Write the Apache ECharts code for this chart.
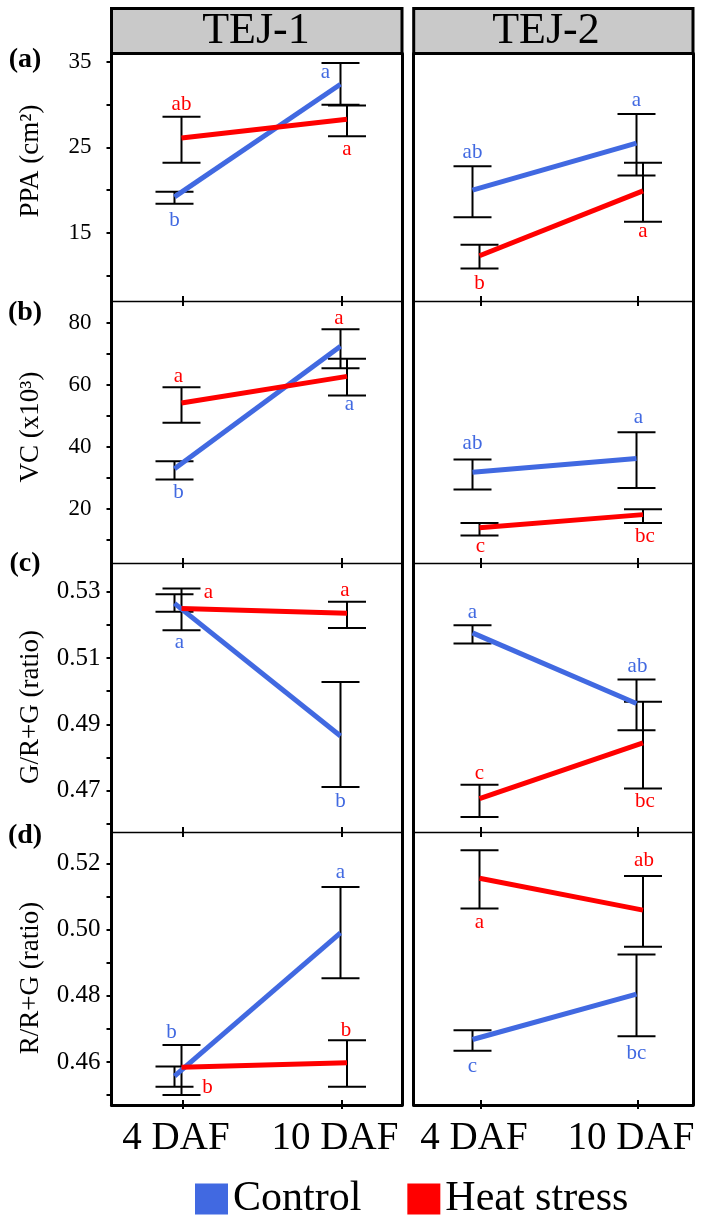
<!DOCTYPE html>
<html><head><meta charset="utf-8">
<script src="https://cdn.jsdelivr.net/npm/echarts@6/dist/echarts.min.js"></script>
<style>html,body{margin:0;padding:0;background:#fff}#chart{width:707px;height:1216px}</style>
</head><body><div id="chart"></div>
<script>
// ---------------- data ----------------
const categories = ['4 DAF', '10 DAF'];
const genotypes = ['TEJ-1', 'TEJ-2'];
const treatments = ['Control', 'Heat stress'];
const panelTags = ['(a)', '(b)', '(c)', '(d)'];
const traitNames = ['PPA (cm²)', 'VC (x10³)', 'G/R+G (ratio)', 'R/R+G (ratio)'];

const ppaTicks = [10, 15, 20, 25, 30, 35];
const ppaTickLabels = [15, 25, 35];
const vcTicks = [10, 20, 30, 40, 50, 60, 70, 80];
const vcTickLabels = [20, 40, 60, 80];
const grgTicks = [0.46, 0.47, 0.48, 0.49, 0.50, 0.51, 0.52, 0.53];
const grgTickLabels = [0.47, 0.49, 0.51, 0.53];
const rrgTicks = [0.45, 0.46, 0.47, 0.48, 0.49, 0.50, 0.51, 0.52];
const rrgTickLabels = [0.46, 0.48, 0.50, 0.52];

// mean, lower / upper end of error bar, significance letters (per category)
const ppaTej1Control = { mean: [19.2, 32.4], low: [18.4, 30.0], high: [19.8, 34.9], letters: ['b', 'a'] };
const ppaTej1Heat    = { mean: [26.1, 28.3], low: [23.2, 26.3], high: [28.6, 29.9], letters: ['ab', 'a'] };
const ppaTej2Control = { mean: [20.0, 25.5], low: [16.8, 21.7], high: [22.8, 28.9], letters: ['ab', 'a'] };
const ppaTej2Heat    = { mean: [12.3, 19.9], low: [10.8, 16.3], high: [13.6, 23.2], letters: ['b', 'a'] };

const vcTej1Control = { mean: [32.9, 72.4], low: [29.4, 65.3], high: [35.3, 77.9], letters: ['b', 'a'] };
const vcTej1Heat    = { mean: [54.1, 62.7], low: [47.7, 56.5], high: [59.2, 68.4], letters: ['a', 'a'] };
const vcTej2Control = { mean: [31.8, 36.2], low: [26.2, 26.7], high: [35.9, 44.7], letters: ['ab', 'a'] };
const vcTej2Heat    = { mean: [13.9, 18.1], low: [11.4, 15.4], high: [15.4, 19.8], letters: ['c', 'bc'] };

const grgTej1Control = { mean: [0.5265, 0.4865], low: [0.5240, 0.4711], high: [0.5293, 0.5028], letters: ['a', 'b'] };
const grgTej1Heat    = { mean: [0.5250, 0.5235], low: [0.5184, 0.5191], high: [0.5310, 0.5270], letters: ['a', 'a'] };
const grgTej2Control = { mean: [0.5176, 0.4963], low: [0.5144, 0.4882], high: [0.5199, 0.5035], letters: ['a', 'ab'] };
const grgTej2Heat    = { mean: [0.4676, 0.4844], low: [0.4620, 0.4706], high: [0.4718, 0.4968], letters: ['c', 'bc'] };

const rrgTej1Control = { mean: [0.4557, 0.4990], low: [0.4525, 0.4853], high: [0.4586, 0.5129], letters: ['b', 'a'] };
const rrgTej1Heat    = { mean: [0.4584, 0.4598], low: [0.4500, 0.4525], high: [0.4651, 0.4666], letters: ['b', 'b'] };
const rrgTej2Control = { mean: [0.4668, 0.4805], low: [0.4634, 0.4678], high: [0.4696, 0.4925], letters: ['c', 'bc'] };
const rrgTej2Heat    = { mean: [0.5155, 0.5059], low: [0.5064, 0.4948], high: [0.5240, 0.5162], letters: ['a', 'ab'] };

// ---------------- layout / style ----------------
const SERIF = "'Liberation Serif', 'Times New Roman', serif";
const COLORS = ['#4169E1', '#FF0000'];
const COLS = [
  { left: 111.5, right: 402, min: -0.4497, max: 1.3774, header: 256 },
  { left: 413.7, right: 693, min: -0.4287, max: 1.3503, header: 546 }
];
const ROWS = [
  { top: 53.5, bottom: 301, min: 7, max: 36, ticks: ppaTicks, labels: ppaTickLabels, dec: 0, margin: 20, fs: 23, tagY: 60, nameY: 161,
    data: [[ppaTej1Control, ppaTej1Heat], [ppaTej2Control, ppaTej2Heat]] },
  { top: 301, bottom: 563, min: 2.5, max: 87, ticks: vcTicks, labels: vcTickLabels, dec: 0, margin: 20, fs: 23, tagY: 313, nameY: 427,
    data: [[vcTej1Control, vcTej1Heat], [vcTej2Control, vcTej2Heat]] },
  { top: 563, bottom: 832, min: 0.4575, max: 0.5387, ticks: grgTicks, labels: grgTickLabels, dec: 2, margin: 11, fs: 25, tagY: 564, nameY: 707,
    data: [[grgTej1Control, grgTej1Heat], [grgTej2Control, grgTej2Heat]] },
  { top: 832, bottom: 1105, min: 0.447, max: 0.5295, ticks: rrgTicks, labels: rrgTickLabels, dec: 2, margin: 11, fs: 25, tagY: 836, nameY: 978,
    data: [[rrgTej1Control, rrgTej1Heat], [rrgTej2Control, rrgTej2Heat]] }
];
// pixel dodge of each treatment at each category
const DODGE = [[-8.5, -1.5], [-1.5, 5]];
// letter placement [anchor, dx, dy]  per row / col / treatment / category
const LABEL_PLACE = [
  [[[['bottom', 0, 4], ['top', -15, 22]], [['top', 0, 0], ['bottom', 0, 0]]],
   [[['top', 0, -2], ['top', 0, -2]], [['bottom', 0, 2], ['bottom', 0, -3]]]],
  [[[['bottom', 4, 0], ['bottom', 9, 23]], [['top', -3, 1], ['top', -8, -28]]],
   [[['top', 0, -4], ['top', 2, -3]], [['bottom', 1, -2], ['bottom', 2, 0]]]],
  [[[['bottom', 5, 18], ['bottom', 0, 2]], [['top', 27, 16], ['top', -2, 1]]],
   [[['top', 0, -1], ['top', 1, -1]], [['top', 0, 1], ['bottom', 2, 0]]]],
  [[[['top', -3, -22], ['top', 0, -2]], [['bottom', 26, -21], ['top', -1, 2]]],
   [[['bottom', 0, 3], ['bottom', 0, 4]], [['bottom', 0, 1], ['top', 1, -4]]]]
];
const CAP_HALF = 19;

const option = {
  animation: false,
  backgroundColor: '#fff',
  textStyle: { fontFamily: SERIF },
  grid: [], xAxis: [], yAxis: [], series: [], graphic: [],
  legend: {
    data: treatments.map(t => ({ name: t, icon: 'rect' })),
    left: 190, top: 1173, itemWidth: 33, itemHeight: 31, itemGap: 46,
    textStyle: { fontSize: 42, fontFamily: SERIF, color: '#000' },
    selectedMode: false
  }
};

function barRenderer(d, dodge, place, color) {
  return function (params, api) {
    const i = params.dataIndex;
    const cat = api.value(0);
    const x = api.coord([cat, api.value(1)])[0] + dodge[i];
    const yLo = api.coord([cat, api.value(2)])[1];
    const yHi = api.coord([cat, api.value(3)])[1];
    const ls = { stroke: '#000', lineWidth: 2 };
    const p = place[i];
    const ly = (p[0] === 'top' ? yHi - 12 : yLo + 13) + p[2];
    return { type: 'group', children: [
      { type: 'line', shape: { x1: x, y1: yHi, x2: x, y2: yLo }, style: ls },
      { type: 'line', shape: { x1: x - CAP_HALF, y1: yHi, x2: x + CAP_HALF, y2: yHi }, style: ls },
      { type: 'line', shape: { x1: x - CAP_HALF, y1: yLo, x2: x + CAP_HALF, y2: yLo }, style: ls },
      { type: 'text', style: { text: d.letters[i], x: x + p[1], y: ly, fill: color, fontSize: 21,
        fontFamily: SERIF, align: 'center', verticalAlign: 'middle' } }
    ] };
  };
}
function lineRenderer(d, dodge, color) {
  return function (params, api) {
    if (params.dataIndex !== 0) return null;
    const pts = d.mean.map((m, k) => {
      const c = api.coord([k, m]);
      return [c[0] + dodge[k], c[1]];
    });
    return { type: 'polyline', shape: { points: pts }, style: { stroke: color, lineWidth: 5, fill: null } };
  };
}

ROWS.forEach((row, r) => {
  COLS.forEach((col, c) => {
    const gi = option.grid.length;
    option.grid.push({ left: col.left, top: row.top, width: col.right - col.left, height: row.bottom - row.top, outerBoundsMode: 'none' });
    const common = { gridIndex: gi, type: 'value', min: col.min, max: col.max, splitLine: { show: false } };
    option.xAxis.push(Object.assign({}, common, {
      position: 'top',
      axisLine: { show: r > 0, onZero: false, lineStyle: { color: '#000', width: 1.3 } },
      axisTick: { show: r > 0, inside: true, length: 5, customValues: [0, 1], lineStyle: { color: '#000', width: 2 } },
      axisLabel: { show: false }
    }));
    const xi = option.xAxis.length;
    option.xAxis.push(Object.assign({}, common, {
      position: 'bottom',
      axisLine: { show: r === 3, onZero: false, lineStyle: { color: '#000', width: 3 } },
      axisTick: { show: true, inside: true, length: 5, customValues: [0, 1], lineStyle: { color: '#000', width: 2 } },
      axisLabel: r === 3 ? { show: true, customValues: [0, 1], formatter: v => categories[Math.round(v)],
        fontSize: 39, fontFamily: SERIF, color: '#000', margin: 14, padding: [0, 14, 0, 0] } : { show: false }
    }));
    if (r === 3) {
      option.xAxis.push(Object.assign({}, common, {
        position: 'bottom',
        axisLine: { show: false, onZero: false },
        axisTick: { show: true, inside: false, length: 4, customValues: [0, 1], lineStyle: { color: '#000', width: 2 } },
        axisLabel: { show: false }
      }));
    }
    const yi = option.yAxis.length;
    option.yAxis.push({
      gridIndex: gi, type: 'value', position: 'left', min: row.min, max: row.max, splitLine: { show: false },
      axisLine: { show: true, onZero: false, lineStyle: { color: '#000', width: 3 } },
      axisTick: { show: c === 0, length: 5, customValues: row.ticks, lineStyle: { color: '#000', width: 2 } },
      axisLabel: { show: c === 0, customValues: row.labels, formatter: v => v.toFixed(row.dec),
        fontSize: row.fs, fontFamily: SERIF, color: '#000', margin: row.margin }
    });
    option.yAxis.push({
      gridIndex: gi, type: 'value', position: 'right', min: row.min, max: row.max, splitLine: { show: false },
      axisLine: { show: true, onZero: false, lineStyle: { color: '#000', width: 3 } },
      axisTick: { show: false }, axisLabel: { show: false }
    });
    row.data[c].forEach((d, t) => {
      const dataRows = d.mean.map((m, k) => [k, m, d.low[k], d.high[k]]);
      option.series.push({
        type: 'custom', name: treatments[t], xAxisIndex: xi, yAxisIndex: yi, z: 2,
        itemStyle: { color: COLORS[t] }, data: dataRows, clip: false,
        renderItem: barRenderer(d, DODGE[t], LABEL_PLACE[r][c][t], COLORS[t])
      });
    });
    row.data[c].forEach((d, t) => {
      option.series.push({
        type: 'custom', name: treatments[t], xAxisIndex: xi, yAxisIndex: yi, z: 3,
        itemStyle: { color: COLORS[t] }, data: d.mean.map((m, k) => [k, m]), clip: false,
        renderItem: lineRenderer(d, DODGE[t], COLORS[t])
      });
    });
  });
  option.graphic.push({ type: 'text', x: 25, y: row.tagY, style: { text: panelTags[r], fontSize: 28, fontWeight: 'bold',
    fontFamily: SERIF, fill: '#000', align: 'center', verticalAlign: 'middle' } });
  option.graphic.push({ type: 'text', x: 31, y: row.nameY, rotation: Math.PI / 2, style: { text: traitNames[r], fontSize: 27,
    fontFamily: SERIF, fill: '#000', align: 'center', verticalAlign: 'middle' } });
});
COLS.forEach((col, c) => {
  option.graphic.push({ type: 'rect', shape: { x: col.left, y: 8.5, width: col.right - col.left, height: 45 },
    style: { fill: '#C9C9C9', stroke: '#000', lineWidth: 3 } });
  option.graphic.push({ type: 'text', x: col.header, y: 31, style: { text: genotypes[c], fontSize: 44,
    fontFamily: SERIF, fill: '#000', align: 'center', verticalAlign: 'middle' } });
});

const chart = echarts.init(document.getElementById('chart'), null, { renderer: 'canvas' });
chart.setOption(option);
</script></body></html>
